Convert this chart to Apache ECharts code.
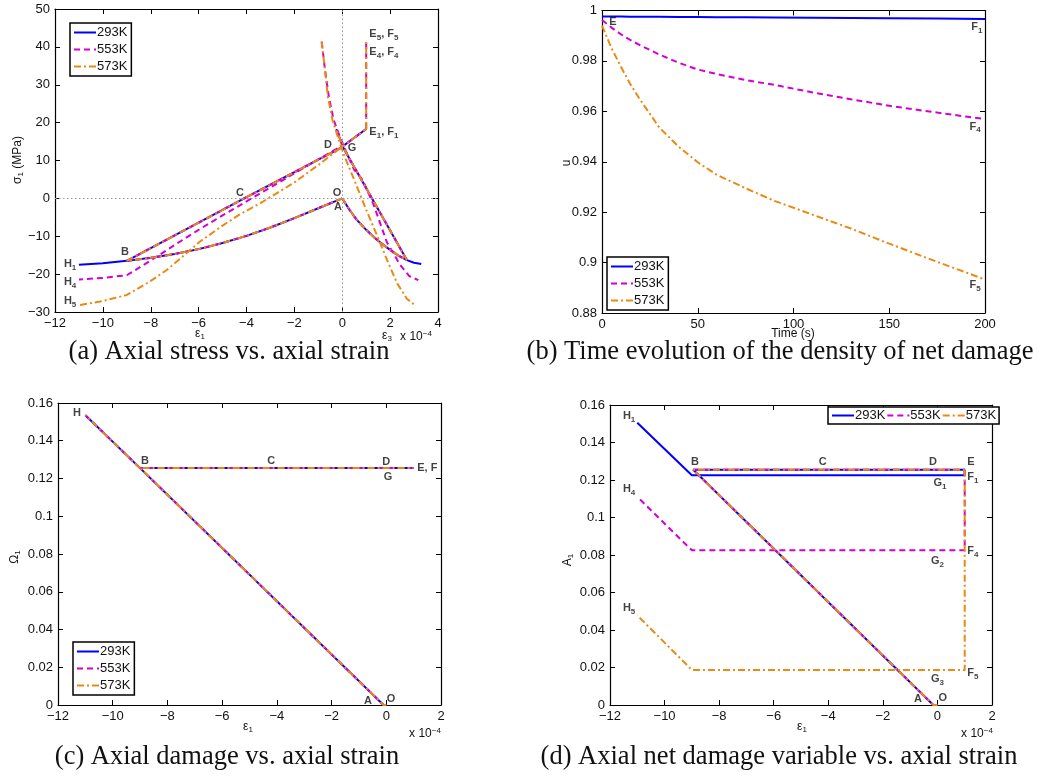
<!DOCTYPE html>
<html>
<head>
<meta charset="utf-8">
<script src="https://cdn.jsdelivr.net/npm/echarts@6/dist/echarts.min.js"></script>
<style>
  html, body { margin: 0; padding: 0; background: #fff; }
  #chart { width: 1038px; height: 776px; }
</style>
</head>
<body>
<div id="chart"></div>
<script>
// ---- (a) axial stress vs strain (x in 1e-4, MPa) ----
const aLoadE1 = [[0, 0], [-1, -2.6], [-2, -5.2], [-3, -7.7], [-4, -9.9], [-5, -11.8], [-6, -13.4], [-7, -14.7], [-8, -15.7], [-9, -16.5]];
const aUnloadE1 = [[-9, -16.5], [-4, 0.3], [-0.1, 13.2], [1, 18.3]];
const aLoadE3 = [[0, 0], [0.3, -3.0], [0.6, -5.6], [1.0, -8.3], [1.3, -10.1], [1.6, -11.7], [2.0, -13.6], [2.35, -15.1], [2.7, -16.3]];
const aUnloadE3 = [[2.7, -16.3], [0.05, 13.3], [-0.25, 18.3]];
const aCreepE1 = [[1, 18.3], [1, 41.3]];
const a293TailE1 = [[-9, -16.5], [-10, -17.1], [-11, -17.5]];
const a293TailE3 = [[2.7, -16.3], [3.0, -17.0], [3.3, -17.3]];
const a553ReloadE1 = [[-0.2, 13.2], [-1, 10.3], [-2, 6.6], [-3, 2.9], [-4, -0.8], [-5, -4.5], [-6, -8.3], [-7, -12.3], [-8, -16.4], [-9, -20.3], [-10, -21.0], [-11, -21.4]];
const a553E3 = [[-0.86, 41.4], [-0.72, 33.9], [-0.56, 26.8], [-0.36, 20.7], [-0.1, 16.3], [0.15, 12.5], [0.5, 7.5], [0.85, 4.9], [1.3, -1.5], [1.86, -11.5], [2.41, -17.5], [2.8, -20.5], [3.18, -21.6]];
const a573ReloadE1 = [[-0.1, 13.2], [-1, 8.8], [-2, 4.2], [-3.4, -1.2], [-4.3, -4.3], [-5, -7.2], [-5.94, -11.4], [-6.6, -15], [-7.33, -18.9], [-8, -21.8], [-9, -25.5], [-10, -27.1], [-11, -28.2]];
const a573E3 = [[-0.86, 41.4], [-0.72, 33.9], [-0.6, 26.8], [-0.4, 20.5], [-0.15, 15.5], [0.1, 11], [0.5, 4.9], [1.0, -3], [1.5, -10.5], [1.92, -17], [2.3, -22.5], [2.7, -26.5], [3.05, -28.3]];

// ---- (b) net damage density vs time ----
const time = [0, 5, 10, 15, 20, 30, 40, 50, 60, 75, 90, 110, 130, 150, 175, 200];
const u293 = [0.9976, 0.9976, 0.9976, 0.9975, 0.9975, 0.9975, 0.9974, 0.9974, 0.9973, 0.9973, 0.9972, 0.9971, 0.9970, 0.9969, 0.9968, 0.9966];
const u553 = [0.9962, 0.9932, 0.9905, 0.9882, 0.9862, 0.9825, 0.9793, 0.9766, 0.9748, 0.9724, 0.9705, 0.9675, 0.9648, 0.9622, 0.9595, 0.9569];
const u573 = [0.9940, 0.9850, 0.9775, 0.9705, 0.9645, 0.9535, 0.9460, 0.9398, 0.9348, 0.9295, 0.9245, 0.9190, 0.9135, 0.9075, 0.9003, 0.8933];

// ---- (c) axial damage vs strain ----
const cPath = [[0, 0], [-0.1, 0], [-9, 0.1255], [1, 0.1255]];
const cTail = [[-9, 0.1255], [-11, 0.1535]];

// ---- (d) axial net damage vs strain ----
const dPath = [[0, 0], [-0.15, 0], [-8.95, 0.1255], [1, 0.1255]];
const d293 = [[1, 0.1255], [1, 0.1225], [-9, 0.1225], [-11, 0.1505]];
const d553 = [[1, 0.1255], [1, 0.0825], [-9, 0.0825], [-11, 0.111]];
const d573 = [[1, 0.1255], [1, 0.0187], [-9, 0.0187], [-11, 0.0478]];

// point labels [x, y, text]
const annA = [[-11.37, -17.3, 'H{s|1}'], [-11.37, -22.1, 'H{s|4}'], [-11.37, -27.1, 'H{s|5}'], [-9.08, -14.2, 'B'], [-4.27, 1.4, 'C'],
  [-0.22, 1.4, 'O'], [-0.18, -2.3, 'A'], [-0.6, 14.1, 'D'], [0.41, 13.3, 'G'],
  [1.74, 17.5, 'E{s|1}, F{s|1}'], [1.74, 38.6, 'E{s|4}, F{s|4}'], [1.74, 43.4, 'E{s|5}, F{s|5}']];
const annB = [[5.7, 0.9954, 'E'], [195.8, 0.9935, 'F{s|1}'], [194.8, 0.9539, 'F{s|4}'], [194.8, 0.8910, 'F{s|5}']];
const annC = [[-11.31, 0.1547, 'H'], [-8.82, 0.1293, 'B'], [-4.21, 0.1293, 'C'], [0, 0.1287, 'D'], [0.06, 0.1208, 'G'],
  [1.5, 0.1256, 'E, F'], [-0.67, 0.002, 'A'], [0.17, 0.0032, 'O']];
const annD = [[-11.3, 0.1541, 'H{s|1}'], [-8.89, 0.1296, 'B'], [-4.2, 0.1296, 'C'], [-0.16, 0.1296, 'D'], [1.23, 0.1296, 'E'],
  [1.3, 0.1216, 'F{s|1}'], [0.09, 0.1184, 'G{s|1}'], [-11.3, 0.1152, 'H{s|4}'], [1.3, 0.0821, 'F{s|4}'], [0.0, 0.0768, 'G{s|2}'],
  [-11.3, 0.0517, 'H{s|5}'], [1.3, 0.0171, 'F{s|5}'], [0.0, 0.0139, 'G{s|3}'], [-0.71, 0.0032, 'A'], [0.2, 0.0037, 'O']];

const names = ['293K', '553K', '573K'];
const FONT = 'Liberation Sans';
const styles = {
  '293K': { color: '#0000ff', type: 'solid', z: 2 },
  '553K': { color: '#d200d2', type: [6, 4], z: 3 },
  '573K': { color: '#ea8a12', type: [7, 3, 2, 3], z: 4 }
};

const grids = [
  { left: 55, top: 9, width: 383, height: 303 },
  { left: 602, top: 10.5, width: 383, height: 302.5 },
  { left: 58, top: 403, width: 383, height: 302 },
  { left: 610, top: 405, width: 382, height: 300 }
];
const ranges = [
  { x: [-12, 4, 2], y: [-30, 50, 10] },
  { x: [0, 200, 50], y: [0.88, 1, 0.02] },
  { x: [-12, 2, 2], y: [0, 0.16, 0.02] },
  { x: [-12, 2, 2], y: [0, 0.16, 0.02] }
];

const fmt = v => String(+v.toFixed(4)).replace('-', '\u2212');

const xAxis = [], yAxis = [];
ranges.forEach((r, g) => {
  ['bottom', 'top'].forEach(pos => xAxis.push({
    type: 'value', gridIndex: g, position: pos, min: r.x[0], max: r.x[1], interval: r.x[2],
    axisLine: { show: true, onZero: false, lineStyle: { color: '#000', width: 1.2 } },
    axisTick: { show: true, inside: true, length: 5, lineStyle: { color: '#000' } },
    axisLabel: { show: pos === 'bottom', color: '#111', fontSize: 13, fontFamily: FONT, margin: 5,
      showMinLabel: true, showMaxLabel: true, hideOverlap: false, formatter: fmt },
    splitLine: { show: false }
  }));
  ['left', 'right'].forEach(pos => yAxis.push({
    type: 'value', gridIndex: g, position: pos, min: r.y[0], max: r.y[1], interval: r.y[2],
    axisLine: { show: true, onZero: false, lineStyle: { color: '#000', width: 1.2 } },
    axisTick: { show: true, inside: true, length: 5, lineStyle: { color: '#000' } },
    axisLabel: { show: pos === 'left', color: '#111', fontSize: 13, fontFamily: FONT, margin: 5,
      showMinLabel: true, showMaxLabel: true, hideOverlap: false, formatter: fmt },
    splitLine: { show: false }
  }));
});

const series = [];
function line(name, g, data, extra) {
  const s = styles[name];
  series.push(Object.assign({
    name, type: 'line', xAxisIndex: g * 2, yAxisIndex: g * 2, data,
    symbol: 'none', showSymbol: false, z: s.z, animation: false,
    lineStyle: { color: s.color, width: 2, type: s.type },
    itemStyle: { color: s.color }
  }, extra || {}));
}

// panel (a)
line('293K', 0, aLoadE1, {
  markLine: {
    silent: true, symbol: ['none', 'none'], label: { show: false },
    lineStyle: { type: [1.5, 2.5], color: '#999', width: 1 },
    data: [{ yAxis: 0 }, { xAxis: 0 }]
  }
});
names.forEach(n => {
  if (n !== '293K') line(n, 0, aLoadE1);
  line(n, 0, aUnloadE1);
  line(n, 0, aLoadE3);
  line(n, 0, aUnloadE3);
});
line('293K', 0, a293TailE1);
line('293K', 0, a293TailE3);
line('553K', 0, aCreepE1);
line('553K', 0, a553ReloadE1);
line('553K', 0, a553E3);
line('573K', 0, aCreepE1);
line('573K', 0, a573ReloadE1);
line('573K', 0, a573E3);

// panel (b)
line('293K', 1, time.map((t, i) => [t, u293[i]]));
line('553K', 1, time.map((t, i) => [t, u553[i]]));
line('573K', 1, time.map((t, i) => [t, u573[i]]));

// panel (c)
names.forEach(n => { line(n, 2, cPath); line(n, 2, cTail); });

// panel (d)
names.forEach(n => line(n, 3, dPath));
line('293K', 3, d293);
line('553K', 3, d553);
line('573K', 3, d573);

const rich = {
  s: { fontSize: 8, fontWeight: 'bold', fontFamily: FONT, padding: [7, 0, 0, 0], color: '#111' }
};
[annA, annB, annC, annD].forEach((ann, g) => series.push({
  type: 'scatter', xAxisIndex: g * 2, yAxisIndex: g * 2, data: ann, symbolSize: 0,
  itemStyle: { color: 'rgba(0,0,0,0)' }, silent: true, animation: false, z: 10,
  label: {
    show: true, position: [0, 0], align: 'center', verticalAlign: 'middle',
    fontSize: 11, fontWeight: 'bold', fontFamily: FONT, color: '#111',
    formatter: p => p.data[2], rich
  }
}));

const legendBase = {
  data: names, orient: 'vertical', itemWidth: 22, itemHeight: 10, itemGap: 4,
  padding: [3, 4, 3, 3], borderColor: '#000', borderWidth: 1.5, backgroundColor: '#fff',
  itemStyle: { opacity: 0 },
  textStyle: { fontSize: 13, fontFamily: FONT, color: '#111', padding: [0, 0, 0, -4] },
  selectedMode: false
};
const legend = [
  Object.assign({}, legendBase, { left: 70, top: 23 }),
  Object.assign({}, legendBase, { left: 607, top: 257 }),
  Object.assign({}, legendBase, { left: 73, top: 642 }),
  Object.assign({}, legendBase, { orient: 'horizontal', left: 828, top: 407, itemGap: 1, padding: [2, 3, 2, 3] })
];

const axRich = {
  n: { fontSize: 12, fontFamily: FONT, fill: '#111' },
  s: { fontSize: 8, fontFamily: FONT, fill: '#111', padding: [6, 0, 0, 0] },
  p: { fontSize: 8, fontFamily: FONT, fill: '#111', padding: [0, 0, 7, 0] }
};
function txt(x, y, text, rot, size) {
  return {
    type: 'text', x, y, rotation: rot || 0,
    style: { text, rich: axRich, fontSize: size || 12, fontFamily: FONT, fill: '#111', align: 'center', verticalAlign: 'middle' }
  };
}
function caption(x, y, text) {
  return {
    type: 'text', x, y,
    style: { text, fontSize: 26.5, fontFamily: 'Liberation Serif', fill: '#111', align: 'center', verticalAlign: 'middle' }
  };
}
const graphic = [
  txt(18, 160, '{n|\u03c3}{s|1}{n| (MPa)}', Math.PI / 2),
  txt(200, 334, '{n|\u03b5}{s|1}'),
  txt(387, 336, '{n|\u03b5}{s|3}'),
  txt(416, 337, '{n|x 10}{p|\u22124}'),
  txt(567, 163, '{n|u}', Math.PI / 2),
  txt(793, 334, '{n|Time (s)}'),
  txt(15, 557, '{n|\u03a9}{s|1}', Math.PI / 2),
  txt(248, 727, '{n|\u03b5}{s|1}'),
  txt(425, 734, '{n|x 10}{p|\u22124}'),
  txt(568, 560, '{n|A}{s|1}', Math.PI / 2),
  txt(802, 727, '{n|\u03b5}{s|1}'),
  txt(977, 734, '{n|x 10}{p|\u22124}'),
  caption(229, 352, '(a) Axial stress vs. axial strain'),
  caption(780, 352, '(b) Time evolution of the density of net damage'),
  caption(227, 757, '(c) Axial damage vs. axial strain'),
  caption(779, 757, '(d) Axial net damage variable vs. axial strain')
];

const chart = echarts.init(document.getElementById('chart'));
chart.setOption({
  animation: false,
  backgroundColor: '#fff',
  grid: grids,
  xAxis, yAxis, series, legend, graphic
});
</script>
</body>
</html>
